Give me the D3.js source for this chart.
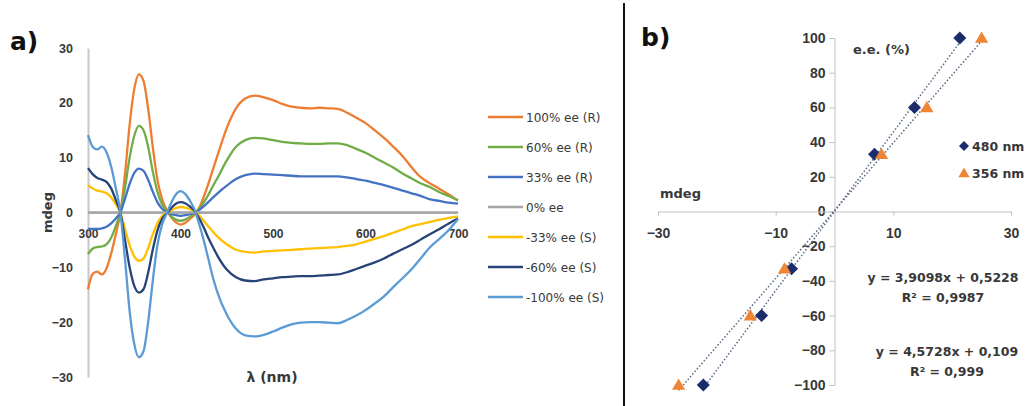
<!DOCTYPE html>
<html>
<head>
<meta charset="utf-8">
<script src="https://cdn.jsdelivr.net/npm/d3@7"></script>
<style>
  body { margin: 0; background: #fff; }
  svg { display: block; font-family: "DejaVu Sans", sans-serif; }
  .tick text { fill: #383838; }
</style>
</head>
<body>
<svg id="chart" width="1033" height="406"></svg>
<script>
// ---- panel a) CD spectra ----
const wavelengths = [300,305,310,315,320,325,330,335,340,345,350,355,360,365,370,375,380,385,390,395,400,405,410,415,420,425,430,435,440,
  450,460,470,480,490,500,510,520,530,540,550,560,570,580,590,600,610,620,630,640,650,660,670,680,690,700];

const ee100R = [-14.0,-11.2,-10.8,-11.3,-10.2,-7.5,-4.0,0,7,16,22.5,25.2,24,19,12,6,2.5,0.5,-0.9,-1.8,-2.2,-1.9,-1.2,-0.4,0.8,2.8,5.2,7.8,10.4,
  15.4,19,20.8,21.3,21,20.5,19.8,19.3,19.1,19.0,19.1,19.0,18.9,18.2,17.3,16.3,15,13.6,12,10.3,8.2,6.4,5.3,4.3,3.3,2.2];
const ee60R = [-7.6,-6.6,-6.3,-6.2,-5.8,-4.6,-2.5,0,4.5,10,14,15.8,15,12,7.5,3.8,1.5,0.3,-0.7,-1.3,-1.5,-1.3,-0.8,-0.2,0.6,1.8,3.2,4.8,6.3,
  9.5,12,13.2,13.6,13.5,13.2,12.9,12.7,12.6,12.5,12.5,12.6,12.6,12.3,11.6,10.9,10,9.1,8.2,7.1,6.2,5.3,4.6,3.7,3,2.2];
const ee33R = [-3.0,-3.0,-3.0,-2.9,-2.6,-2.0,-1.1,0,2.5,5.2,7.2,8,7.6,6,3.8,1.9,0.7,0.1,-0.3,-0.5,-0.6,-0.5,-0.3,-0.1,0.4,1.1,1.9,2.7,3.5,
  4.9,6.1,6.8,7.1,7.0,6.9,6.8,6.7,6.6,6.6,6.6,6.6,6.6,6.4,6.1,5.8,5.4,5.0,4.5,4.0,3.5,3.0,2.4,2.1,1.8,1.6];
const ee0 = [0,0,0,0,0,0,0,0,0,0,0,0,0,0,0,0,0,0,0,0,0,0,0,0,0,0,0,0,0,
  0,0,0,0,0,0,0,0,0,0,0,0,0,0,0,0,0,0,0,0,0,0,0,0,0,0];
const ee33S = [5.0,4.4,4.0,3.8,3.5,2.8,1.5,0,-3,-6,-8,-8.8,-8.4,-6.5,-4,-2,-0.7,-0.1,0.4,0.8,1.0,0.9,0.6,0.2,-0.5,-1.5,-2.5,-3.5,-4.4,
  -5.8,-6.8,-7.2,-7.3,-7.1,-7.0,-6.9,-6.8,-6.7,-6.6,-6.5,-6.4,-6.3,-6.1,-5.8,-5.3,-4.8,-4.3,-3.7,-3.1,-2.5,-2.1,-1.7,-1.3,-1.0,-0.7];
const ee60S = [8.1,7.0,6.3,6.0,5.6,4.4,2.3,0,-5,-10,-13.4,-14.6,-14,-11,-6.8,-3.3,-1.2,-0.2,0.8,1.6,1.9,1.7,1.1,0.3,-1.0,-2.7,-4.6,-6.3,-7.9,
  -10.4,-11.8,-12.4,-12.5,-12.2,-12,-11.8,-11.7,-11.6,-11.6,-11.5,-11.4,-11.3,-10.9,-10.3,-9.7,-9.1,-8.4,-7.5,-6.7,-5.9,-4.9,-3.9,-3.0,-2.0,-1.1];
const ee100S = [14.1,12.0,11.5,12.0,11.0,8.4,4.5,0,-8.5,-18,-24,-26.4,-25.3,-20,-12.5,-6,-2.2,-0.2,1.8,3.3,3.9,3.4,2.2,0.6,-2.0,-5.0,-8.4,-11.8,-14.6,
  -18.6,-21.2,-22.4,-22.6,-22.3,-21.7,-21.0,-20.4,-20.1,-20.0,-20.0,-20.1,-20.2,-19.6,-18.8,-17.8,-16.6,-15.3,-13.6,-12,-10.3,-8.3,-6.3,-4.8,-3.2,-1.2];

const seriesNames = ["100% ee (R)", "60% ee (R)", "33% ee (R)", "0% ee", "-33% ee (S)", "-60% ee (S)", "-100% ee (S)"];
const seriesValues = [ee100R, ee60R, ee33R, ee0, ee33S, ee60S, ee100S];
const seriesColors = ["#ed7d31", "#70ad47", "#4472c4", "#a5a5a5", "#ffc000", "#264478", "#5b9bd5"];

const mdegTicksA = [-30, -20, -10, 0, 10, 20, 30];
const nmTicks = [300, 400, 500, 600, 700];

// ---- panel b) calibration ----
const eeValues = [-100, -60, -33, 33, 60, 100];
const mdeg480 = [-22.3, -12.4, -7.3, 6.8, 13.6, 21.3];
const mdeg356 = [-26.5, -14.3, -8.5, 8.0, 15.7, 25.0];
const fit480 = [4.5728, 0.109];
const fit356 = [3.9098, 0.5228];
const eqText356 = ["y = 3,9098x + 0,5228", "R² = 0,9987"];
const eqText480 = ["y = 4,5728x + 0,109", "R² = 0,999"];
const eeTicks = [-100, -80, -60, -40, -20, 0, 20, 40, 60, 80, 100];
const mdegTicksB = [-30, -10, 10, 30];

const svg = d3.select("#chart");
const textColor = "#383838";

// ================= panel a =================
const xA = d3.scaleLinear().domain([300, 700]).range([88, 458]);
const yA = d3.scaleLinear().domain([-30, 30]).range([377, 48]);

const axA = svg.append("g").attr("transform", `translate(${xA(300)},0)`)
  .call(d3.axisLeft(yA).tickValues(mdegTicksA).tickSize(0).tickPadding(15));
axA.select(".domain").attr("stroke", "#c8c8c8").attr("stroke-width", 2);
axA.selectAll("text").attr("font-size", 12.5).attr("font-weight", "bold");

const axAx = svg.append("g").attr("transform", `translate(0,${yA(0)})`)
  .call(d3.axisBottom(xA).tickValues(nmTicks).tickSize(0).tickPadding(17));
axAx.select(".domain").attr("stroke", "#c8c8c8").attr("stroke-width", 2);
axAx.selectAll("text").attr("font-size", 12).attr("font-weight", "bold");

const line = d3.line()
  .x((d, i) => xA(wavelengths[i]))
  .y(d => yA(d))
  .curve(d3.curveMonotoneX);

svg.append("g").selectAll("path")
  .data(seriesValues)
  .join("path")
  .attr("d", d => line(d))
  .attr("fill", "none")
  .attr("stroke", (d, i) => seriesColors[i])
  .attr("stroke-width", 2.3)
  .attr("stroke-linejoin", "round");

svg.append("text").attr("transform", `translate(52,${yA(0)}) rotate(-90)`)
  .attr("text-anchor", "middle").attr("font-size", 13).attr("font-weight", "bold")
  .attr("fill", textColor).text("mdeg");
svg.append("text").attr("x", 272).attr("y", 382)
  .attr("text-anchor", "middle").attr("font-size", 14).attr("font-weight", "bold")
  .attr("fill", textColor).text("λ (nm)");
svg.append("text").attr("x", 10).attr("y", 50)
  .attr("font-size", 25).attr("font-weight", "bold").attr("fill", "#111").text("a)");

// legend a
const legA = svg.append("g").selectAll("g")
  .data(seriesNames)
  .join("g")
  .attr("transform", (d, i) => `translate(488,${117 + i * 30})`);
legA.append("line").attr("x1", 0).attr("x2", 35)
  .attr("stroke", (d, i) => seriesColors[i]).attr("stroke-width", 2.3);
legA.append("text").attr("x", 38).attr("y", 4.5)
  .attr("font-size", 12).attr("fill", textColor).text(d => d);

// divider
svg.append("line").attr("x1", 624).attr("x2", 624).attr("y1", 3).attr("y2", 406)
  .attr("stroke", "#111").attr("stroke-width", 2);

// ================= panel b =================
const xB = d3.scaleLinear().domain([-30, 30]).range([658, 1011]);
const yB = d3.scaleLinear().domain([-100, 100]).range([385, 38]);

const axBy = svg.append("g").attr("transform", `translate(${xB(0)},0)`)
  .call(d3.axisLeft(yB).tickValues(eeTicks).tickSize(5).tickPadding(4).tickSizeOuter(0));
axBy.selectAll(".domain, line").attr("stroke", "#bfbfbf");
axBy.selectAll("text").attr("font-size", 14).attr("font-weight", "bold");

const axBx = svg.append("g").attr("transform", `translate(0,${yB(0)})`)
  .call(d3.axisBottom(xB).tickValues(mdegTicksB).tickSize(4).tickPadding(13).tickSizeOuter(0));
axBx.selectAll(".domain, line").attr("stroke", "#bfbfbf");
axBx.selectAll("text").attr("font-size", 14).attr("font-weight", "bold");

// trendlines across data range
function trend(xs, fit) {
  const ext = d3.extent(xs);
  return ext.map(x => [xB(x), yB(fit[0] * x + fit[1])]);
}
[[mdeg480, fit480], [mdeg356, fit356]].forEach(([xs, fit]) => {
  svg.append("path")
    .attr("d", d3.line()(trend(xs, fit)))
    .attr("fill", "none").attr("stroke", "#5c6a84")
    .attr("stroke-width", 1.5).attr("stroke-dasharray", "1.5,2");
});

const diamond = d3.symbol(d3.symbolSquare, 85);
const triangle = d3.symbol(d3.symbolTriangle, 75);

svg.append("g").selectAll("path")
  .data(mdeg480)
  .join("path")
  .attr("d", diamond)
  .attr("transform", (d, i) => `translate(${xB(d)},${yB(eeValues[i])}) rotate(45)`)
  .attr("fill", "#1c2b6b");

svg.append("g").selectAll("path")
  .data(mdeg356)
  .join("path")
  .attr("d", triangle)
  .attr("transform", (d, i) => `translate(${xB(d)},${yB(eeValues[i]) + 1})`)
  .attr("fill", "#ef8535");

// axis titles b
svg.append("text").attr("x", 660).attr("y", 198)
  .attr("font-size", 13).attr("font-weight", "bold").attr("fill", textColor).text("mdeg");
svg.append("text").attr("x", 853).attr("y", 54)
  .attr("font-size", 13).attr("font-weight", "bold").attr("fill", textColor).text("e.e. (%)");
svg.append("text").attr("x", 641).attr("y", 46)
  .attr("font-size", 25).attr("font-weight", "bold").attr("fill", "#111").text("b)");

// legend b
svg.append("path").attr("d", d3.symbol(d3.symbolSquare, 50))
  .attr("transform", "translate(964,146) rotate(45)").attr("fill", "#1c2b6b");
svg.append("text").attr("x", 972).attr("y", 151)
  .attr("font-size", 12.5).attr("font-weight", "bold").attr("fill", textColor).text("480 nm");
svg.append("path").attr("d", d3.symbol(d3.symbolTriangle, 55))
  .attr("transform", "translate(964,174)").attr("fill", "#ef8535");
svg.append("text").attr("x", 972).attr("y", 178)
  .attr("font-size", 12.5).attr("font-weight", "bold").attr("fill", textColor).text("356 nm");

// equations
const eqs = [[eqText356, 943, 282], [eqText480, 947, 356]];
eqs.forEach(([lines, cx, y0]) => {
  svg.append("text").attr("x", cx).attr("y", y0)
    .attr("text-anchor", "middle").attr("font-size", 12.5).attr("font-weight", "bold")
    .attr("fill", textColor).text(lines[0]);
  svg.append("text").attr("x", cx).attr("y", y0 + 20)
    .attr("text-anchor", "middle").attr("font-size", 12.5).attr("font-weight", "bold")
    .attr("fill", textColor).text(lines[1]);
});
</script>
</body>
</html>
